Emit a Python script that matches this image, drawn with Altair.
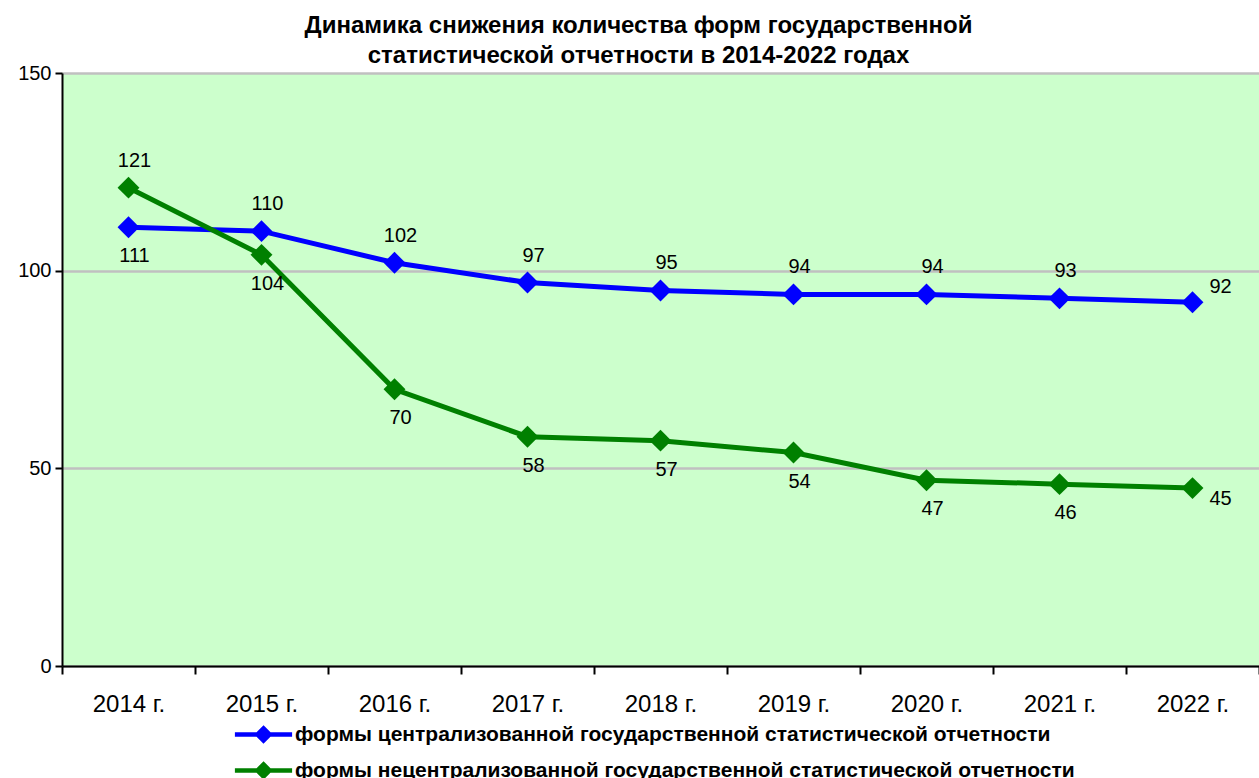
import altair as alt
import pandas as pd

years = ["2014 г.", "2015 г.", "2016 г.", "2017 г.", "2018 г.", "2019 г.", "2020 г.", "2021 г.", "2022 г."]
central = [111, 110, 102, 97, 95, 94, 94, 93, 92]
noncentral = [121, 104, 70, 58, 57, 54, 47, 46, 45]
series_names = [
    "формы централизованной государственной статистической отчетности",
    "формы нецентрализованной государственной статистической отчетности",
]
colors = ["#0000FF", "#008000"]
title_lines = [
    "Динамика снижения количества форм государственной",
    "статистической отчетности в 2014-2022 годах",
]

rows = []
for i, y in enumerate(years):
    rows.append({"year": y, "series": series_names[0], "value": central[i]})
    rows.append({"year": y, "series": series_names[1], "value": noncentral[i]})
df = pd.DataFrame(rows)

FONT = "Liberation Sans"

x_enc = alt.X("year:N", sort=years, title=None,
              scale=alt.Scale(paddingInner=0, paddingOuter=0),
              axis=alt.Axis(labelAngle=0, tickBand="extent", labelFontSize=24,
                            labelPadding=18, tickSize=8, tickWidth=2, tickColor="black",
                            domainColor="black", domainWidth=2, labelColor="black",
                            grid=False, labelFont=FONT))
y_enc = alt.Y("value:Q", title=None,
              scale=alt.Scale(domain=[0, 150], nice=False),
              axis=alt.Axis(values=[0, 50, 100, 150], labelFontSize=20, tickSize=7,
                            tickWidth=2, tickColor="black", domainColor="black",
                            domainWidth=2, labelColor="black", gridColor="#C0C0C0",
                            gridWidth=2.5, labelPadding=4, labelFont=FONT))

legend_path = "M-2.6,0L2.6,0M0,-0.55L0.55,0L0,0.55L-0.55,0Z"
legend = alt.Legend(title=None, orient="none", legendX=171 + 17, legendY=648,
                    direction="vertical", symbolType=legend_path, symbolSize=484,
                    symbolStrokeWidth=4.5, labelFontSize=21, labelFontWeight="bold",
                    labelFont=FONT, labelColor="black", labelLimit=1000,
                    labelOffset=18, rowPadding=5)

scale_c = alt.Scale(domain=series_names, range=colors)

base = alt.Chart(df).encode(x=x_enc, y=y_enc)

lines = base.mark_line(strokeWidth=5).encode(
    stroke=alt.Stroke("series:N", scale=scale_c, legend=legend,
                      sort=series_names),
    detail="series:N",
)
points = base.mark_point(shape="diamond", filled=True, size=480, opacity=1).encode(
    fill=alt.Fill("series:N", scale=scale_c, legend=legend, sort=series_names),
)

lab = base.transform_joinaggregate(
    vmax="max(value)", groupby=["year"]
)
txt_style = dict(fontSize=20, font=FONT, color="black", baseline="middle", align="center")
top_labels = lab.transform_filter(
    "datum.value == datum.vmax && datum.year != '2022 г.'"
).mark_text(dy=-27, dx=6, **txt_style).encode(text="value:Q")
bottom_labels = lab.transform_filter(
    "datum.value != datum.vmax && datum.year != '2022 г.'"
).mark_text(dy=29, dx=6, **txt_style).encode(text="value:Q")
last_top = lab.transform_filter(
    "datum.value == datum.vmax && datum.year == '2022 г.'"
).mark_text(dy=-15, dx=28, **txt_style).encode(text="value:Q")
last_bottom = lab.transform_filter(
    "datum.value != datum.vmax && datum.year == '2022 г.'"
).mark_text(dy=11, dx=28, **txt_style).encode(text="value:Q")

chart = alt.layer(lines, points, top_labels, bottom_labels, last_top, last_bottom).properties(
    width=1197,
    height=593,
    title=alt.TitleParams(title_lines, fontSize=24, fontWeight="bold", font=FONT,
                          anchor="middle", offset=-5, lineHeight=30, dx=-22, color="black"),
    autosize=alt.AutoSizeParams(type="none"),
    padding={"left": 62, "top": 73, "right": 0, "bottom": 112},
).configure(font=FONT).configure_view(
    fill="#CCFFCC", strokeWidth=0
)

chart.save("out.html", embed_options={"renderer": "svg", "actions": False})
